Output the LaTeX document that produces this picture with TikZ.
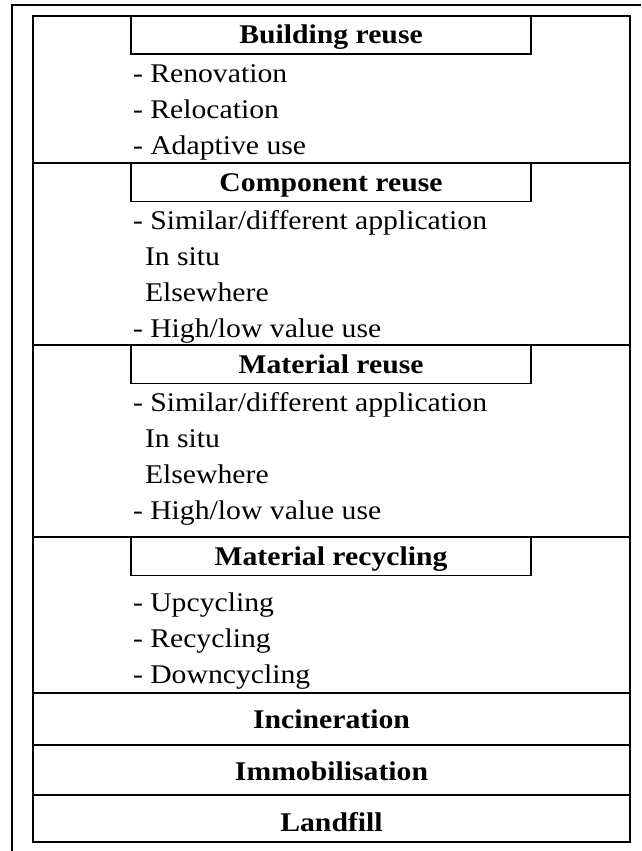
\documentclass[tikz,border=0pt]{standalone}
\usepackage{fontspec}
\setmainfont[FakeStretch=1.1]{Liberation Serif}
\begin{document}
\begin{tikzpicture}[x=1pt,y=-1pt,
  every node/.style={inner sep=0pt, outer sep=0pt, font=\fontsize{27}{32}\selectfont},
  item/.style={anchor=base west},
  head/.style={anchor=base, font=\fontsize{27}{32}\selectfont\bfseries},
  titlebox/.style={draw, line width=1.1pt, minimum width=400pt, minimum height=38pt,
    text height=18pt, text depth=0pt, font=\fontsize{27}{32}\selectfont\bfseries},
  frame/.style={line width=1.8pt},
  panel/.style={line width=1.2pt}]
\useasboundingbox (0,0) rectangle (641,851);
% outer frame
\draw[frame] (12,851) -- (12,5) -- (641,5);
% inner panel
\draw[panel] (33,16) rectangle (630,842);
\foreach \yy in {163,345,537,693,745,795} \draw[panel] (33,\yy) -- (630,\yy);
% Building reuse
\node[titlebox] (t1) at (331,35) {Building reuse};
\node[item] (a1) at (133,82) {- Renovation};
\node[item] (a2) at (133,118) {- Relocation};
\node[item] (a3) at (133,154) {- Adaptive use};
% Component reuse
\node[titlebox] (t2) at (331,182.5) {Component reuse};
\node[item] (b1) at (133,229) {- Similar/different application};
\node[item] (b2) at (145,265) {In situ};
\node[item] (b3) at (145,301) {Elsewhere};
\node[item] (b4) at (133,337) {- High/low value use};
% Material reuse
\node[titlebox] (t3) at (331,364.5) {Material reuse};
\node[item] (c1) at (133,411) {- Similar/different application};
\node[item] (c2) at (145,447) {In situ};
\node[item] (c3) at (145,483) {Elsewhere};
\node[item] (c4) at (133,519) {- High/low value use};
% Material recycling
\node[titlebox] (t4) at (331,556.5) {Material recycling};
\node[item] (d1) at (133,611) {- Upcycling};
\node[item] (d2) at (133,647) {- Recycling};
\node[item] (d3) at (133,683) {- Downcycling};
% lower levels
\node[head] (e1) at (331.5,728) {Incineration};
\node[head] (e2) at (331.5,780) {Immobilisation};
\node[head] (e3) at (331.5,831) {Landfill};
\end{tikzpicture}
\end{document}
